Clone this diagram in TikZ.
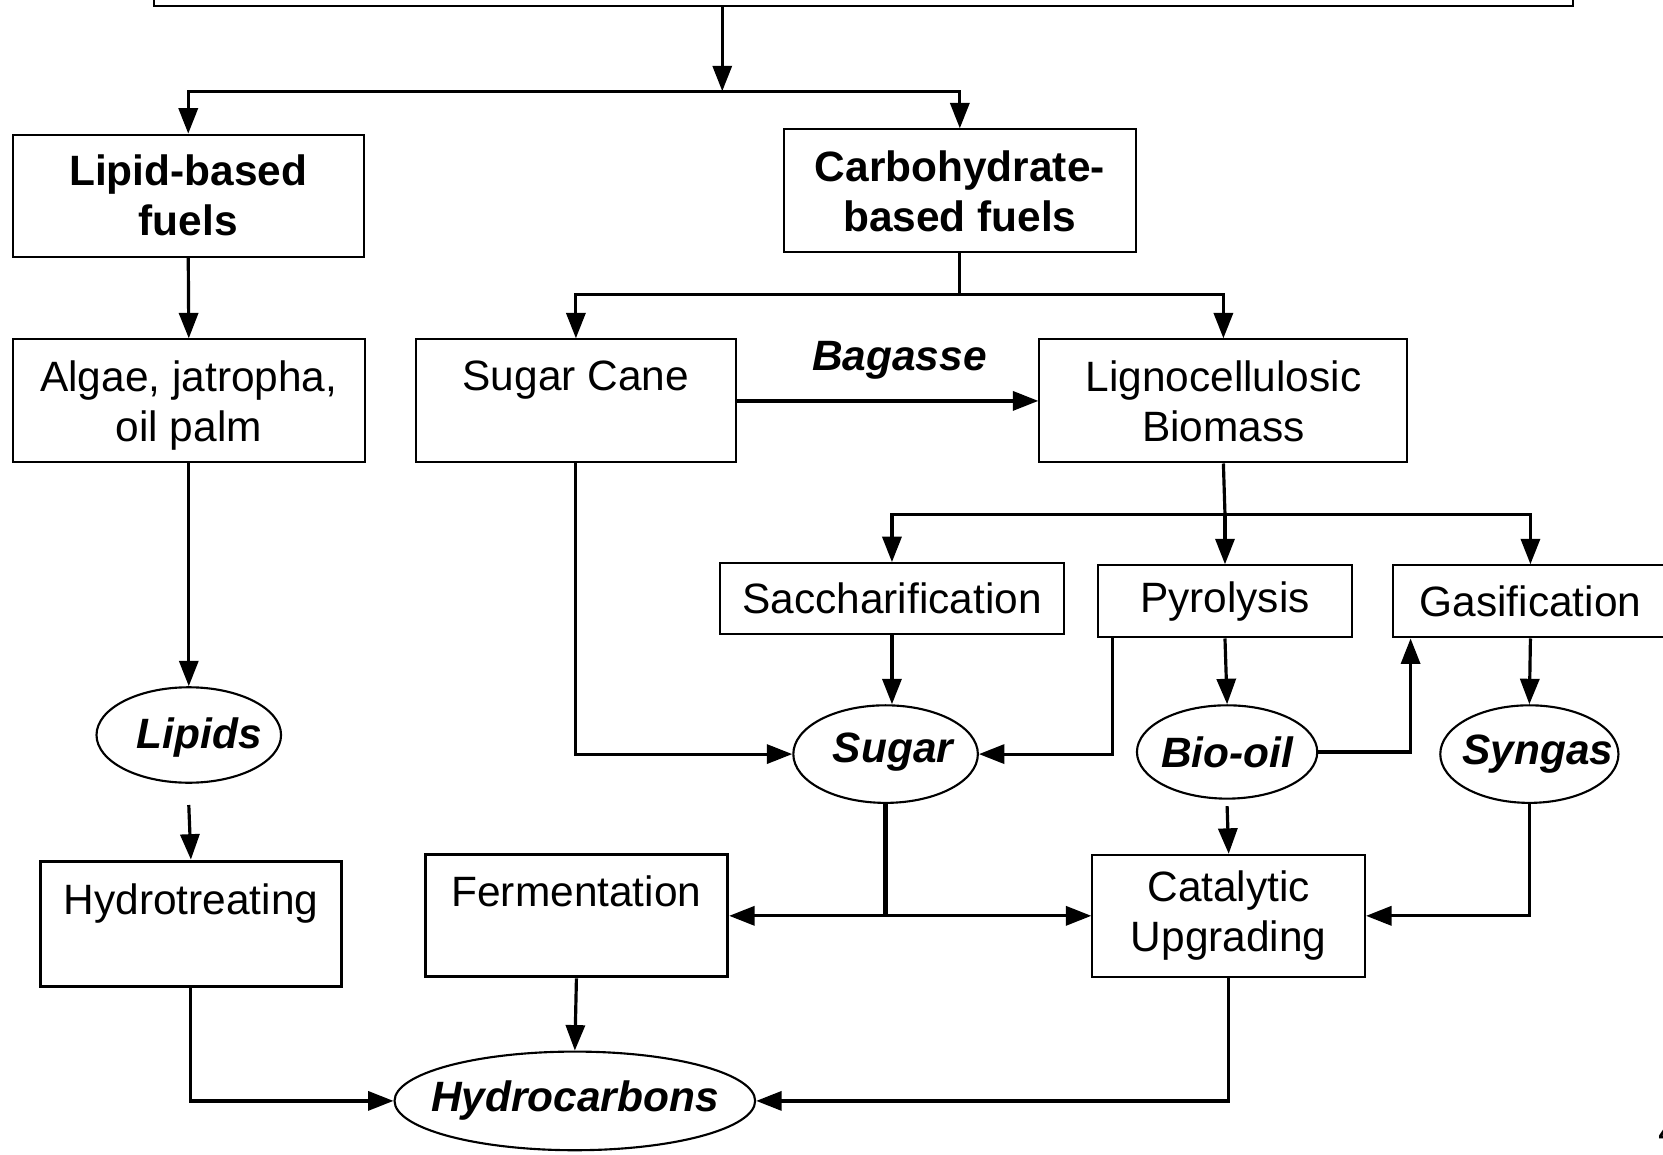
\documentclass[tikz,border=0pt]{standalone}
\usepackage{fontspec}
\setmainfont{Liberation Sans}
\usetikzlibrary{arrows.meta,shapes.geometric}
\begin{document}
\begin{tikzpicture}[x=0.5pt,y=-0.5pt,
  every node/.style={font=\fontsize{20}{23.5}\selectfont},
  box/.style={draw, line width=1pt, rectangle, inner sep=0pt, align=center},
  tbox/.style={box, line width=1.5pt},
  bbox/.style={box, font=\fontsize{20}{23.5}\selectfont\bfseries},
  oval/.style={draw, line width=1pt, ellipse, inner sep=0pt},
  ovtxt/.style={font=\fontsize{20}{23.5}\selectfont\bfseries\itshape},
  arr/.style={line width=1.5pt, -{Triangle[length=12pt,width=9pt]}},
  ln/.style={line width=1.5pt},
]
\useasboundingbox (0,0) rectangle (1568,1089);

% nodes
\node[box, minimum width=669pt, minimum height=13pt] (top) at (814,-7) {};
\node[bbox, minimum width=165.5pt, minimum height=57.5pt] (lipid) at (177.5,184.5) {Lipid-based\\fuels};
\node[bbox, minimum width=166pt, minimum height=58pt] (carb) at (905,180) {Carbohydrate-\\based fuels};
\node[box, minimum width=166pt, minimum height=58pt, text depth=-4pt] (algae) at (178,378) {Algae, jatropha,\\oil palm};
\node[box, minimum width=151pt, minimum height=58pt] (cane) at (543,378) {Sugar Cane\\\phantom{X}};
\node[box, minimum width=173.5pt, minimum height=58pt] (ligno) at (1153.5,378) {Lignocellulosic\\Biomass};
\node[ovtxt] (bag) at (848,340) {Bagasse};
\node[box, minimum width=162pt, minimum height=33.5pt] (sacch) at (841,564.5) {Saccharification};
\node[box, minimum width=120pt, minimum height=34pt] (pyro) at (1155,567) {Pyrolysis};
\node[box, minimum width=130pt, minimum height=34pt] (gas) at (1443,567) {Gasification};
\node[oval, minimum width=87pt, minimum height=45pt, label={[ovtxt, xshift=5pt, yshift=-1pt]center:Lipids}] (lipids) at (178,693) {};
\node[oval, minimum width=87pt, minimum height=46pt, label={[ovtxt, xshift=3.5pt, yshift=1pt]center:Sugar}] (sugar) at (835,711) {};
\node[oval, minimum width=85pt, minimum height=44pt, label={[ovtxt]center:{Bio-oil}}] (bio) at (1157,709) {};
\node[oval, minimum width=84pt, minimum height=46pt, label={[ovtxt, xshift=4pt]center:Syngas}] (syn) at (1442,711) {};
\node[tbox, minimum width=142pt, minimum height=59pt] (hydro) at (180,871) {Hydrotreating\\\phantom{X}};
\node[tbox, minimum width=142.5pt, minimum height=57.5pt] (ferm) at (543.5,863.5) {Fermentation\\\phantom{X}};
\node[box, minimum width=128.5pt, minimum height=57.5pt] (cat) at (1158.5,863.5) {Catalytic\\Upgrading};
\node[oval, minimum width=170pt, minimum height=46.5pt, label={[ovtxt]center:Hydrocarbons}] (hc) at (542,1038) {};
\node[anchor=base west] (pg) at (1557,1080) {4};

% junctions
\coordinate (j1) at (681,86);
\coordinate (j2) at (905,278);
\coordinate (j3) at (1155,485);
\coordinate (j4) at (835,863.5);

% connectors
\draw[arr] (top.south -| j1) -- (j1);
\draw[arr] (j1) -| (lipid.north);
\draw[arr] (j1) -| (carb.north);
\draw[arr] (lipid.south) -- (algae.north);
\draw[arr] (algae.south) -- (lipids.north);
\draw[arr] ([yshift=-10pt]lipids.south) -- (hydro.north);
\draw[arr] (hydro.south) |- (hc.west);

\draw[ln] (carb.south) -- (j2);
\draw[arr] (j2) -| (cane.north);
\draw[arr] (j2) -| (ligno.north);
\draw[arr] (cane.east) -- (ligno.west);
\draw[arr] (cane.south) |- (sugar.west);

\draw[ln] (ligno.south) -- (j3);
\draw[arr] (j3) -| (sacch.north);
\draw[arr] (j3) -- (pyro.north);
\draw[arr] (j3) -| (gas.north);

\draw[arr] (sacch.south) -- (sacch.south |- sugar.north);
\draw[arr] ([xshift=7.5pt]pyro.south west) |- (sugar.east);
\draw[arr] (pyro.south) -- (bio.north);
\draw[arr] (bio.east) -| ([xshift=9pt]gas.south west);
\draw[arr] (gas.south) -- (syn.north);
\draw[arr] ([yshift=-3pt]bio.south) -- (cat.north);
\draw[arr] (syn.south) |- (cat.east);

\draw[line width=2pt] (sugar.south) -- (j4);
\draw[arr] (j4) -- (ferm.east);
\draw[arr] (j4) -- (cat.west);
\draw[arr] (ferm.south) -- (hc.north);
\draw[arr] (cat.south) |- (hc.east);
\end{tikzpicture}
\end{document}
